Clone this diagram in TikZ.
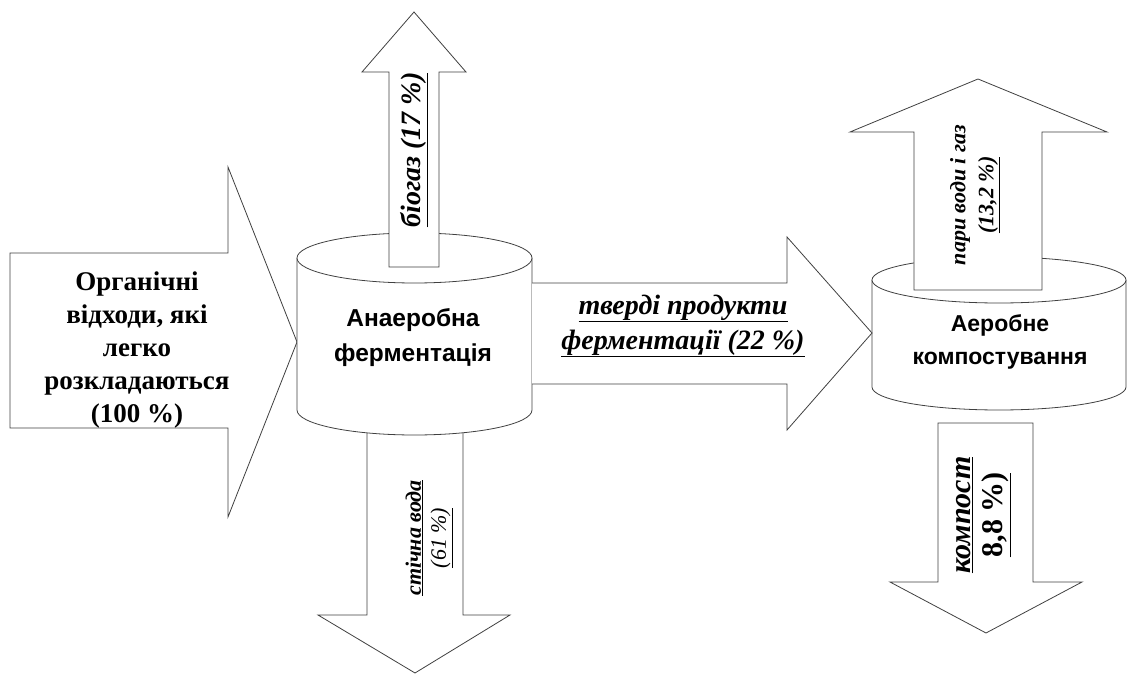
\documentclass[tikz,border=0pt]{standalone}
\usepackage{fontspec}
\setmainfont{Liberation Serif}
\newfontfamily\arialf{Liberation Sans}
\begin{document}
\begin{tikzpicture}[x=1pt,y=1pt,
  blk/.style={draw=black!75,line width=0.8pt,fill=white,line join=miter},
  cyl/.style={draw=black!75,line width=0.8pt,fill=white}]
\useasboundingbox (0,0) rectangle (1128,675);
% left input arrow
\draw[blk] (10,422) -- (228,422) -- (228,508) -- (297,333) -- (228,158) -- (228,247) -- (10,247) -- cycle;
% bottom arrow (waste water)
\draw[blk] (367,243) -- (463,243) -- (463,60) -- (510,60) -- (415,2) -- (318,60) -- (367,60) -- cycle;
% compost arrow
\draw[blk] (938,252) -- (1033,252) -- (1033,93) -- (1082,93) -- (986,42) -- (890,93) -- (938,93) -- cycle;
% cylinder 1
\draw[cyl] (297,417) -- (297,265) arc[start angle=180,end angle=360,x radius=117.5pt,y radius=25pt] -- (532,417);
\draw[cyl] (414.5,417) ellipse[x radius=117.5pt,y radius=25pt];
% cylinder 2
\draw[cyl] (872,395) -- (872,288) arc[start angle=180,end angle=360,x radius=127pt,y radius=23pt] -- (1126,395);
\draw[cyl] (999,395) ellipse[x radius=127pt,y radius=23pt];
% middle arrow
\draw[blk] (532,392) -- (787,392) -- (787,438) -- (872,342) -- (787,245) -- (787,291) -- (532,291);
% biogas arrow
\draw[blk] (389,408) -- (389,603) -- (362,603) -- (414,663) -- (466,603) -- (439,603) -- (439,408) -- cycle;
% vapour arrow
\draw[blk] (914,385) -- (914,543) -- (850,543) -- (978,596) -- (1107,543) -- (1042,543) -- (1042,385) -- cycle;
% texts
\node[align=center,font=\fontsize{27}{33}\selectfont\bfseries] (tin) at (137,325)
  {Органічні\\відходи, які\\легко\\розкладаються\\(100 \%)};
\node[align=center,font=\arialf\fontsize{24.5}{35}\selectfont\bfseries] (tc1) at (413,337)
  {Анаеробна\\ферментація};
\node[align=center,font=\arialf\fontsize{23}{33}\selectfont\bfseries] (tc2) at (1000,333)
  {Аеробне\\компостування};
\node[align=center,font=\fontsize{28}{35}\selectfont\bfseries\itshape] (tmid) at (683,349)
  {\underline{тверді продукти}\\\underline{ферментації (22 \%)}};
\node[rotate=90,font=\fontsize{28}{30}\selectfont\bfseries\itshape] (tbio) at (414,525)
  {\underline{біогаз (17 \%)}};
\node[rotate=90,align=center,font=\fontsize{22}{25}\selectfont\itshape] (twat) at (429,137)
  {\textbf{\underline{стічна вода}}\\\underline{(61 \%)}};
\node[rotate=90,align=center,font=\fontsize{22}{28}\selectfont\bfseries\itshape] (tvap) at (975,480)
  {пари води і газ\\\underline{(13,2 \%)}};
\node[rotate=90,align=center,font=\fontsize{30}{32}\selectfont\bfseries] (tcomp) at (984,160)
  {\itshape\underline{компост}\\\underline{8,8 \%)}};
\end{tikzpicture}
\end{document}
